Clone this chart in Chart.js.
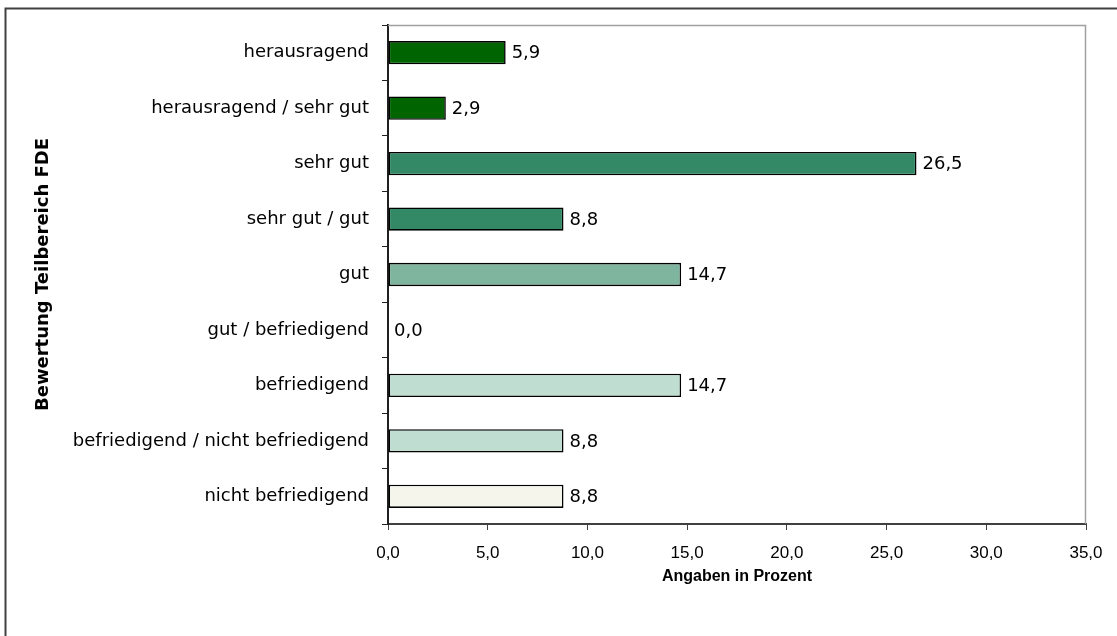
<!DOCTYPE html>
<html>
<head>
<meta charset="utf-8">
<script src="https://cdn.jsdelivr.net/npm/chart.js@4/dist/chart.umd.min.js"></script>
<style>
  html, body { margin: 0; padding: 0; background: #fff; }
  #wrap { width: 1117px; height: 636px; position: relative; }
</style>
</head>
<body>
<div id="wrap"><canvas id="bewertungChart" width="1117" height="636"></canvas></div>
<script>
// categories, top to bottom
const categories = [
  "herausragend",
  "herausragend / sehr gut",
  "sehr gut",
  "sehr gut / gut",
  "gut",
  "gut / befriedigend",
  "befriedigend",
  "befriedigend / nicht befriedigend",
  "nicht befriedigend",
];
const percentValues = [5.9, 2.9, 26.5, 8.8, 14.7, 0.0, 14.7, 8.8, 8.8];
const xTicks = [0, 5, 10, 15, 20, 25, 30, 35];

const barColors = [
  "#006400", "#006400",
  "#338866", "#338866",
  "#7fb59f", "#7fb59f",
  "#bfddd1", "#bfddd1",
  "#f5f5ec",
];

const fmt = (v) => v.toFixed(1).replace(".", ",");

// frame round the whole picture + gray top/right edge of the plot area
const framePlugin = {
  id: "frame",
  beforeDraw(chart) {
    const ctx = chart.ctx;
    ctx.save();
    ctx.fillStyle = "#fff";
    ctx.fillRect(0, 0, chart.width, chart.height);
    ctx.strokeStyle = "#404040";
    ctx.lineWidth = 2;
    ctx.strokeRect(5.5, 8.5, 1300, 800);
    ctx.restore();
  },
  afterDraw(chart) {
    const { left, top, right, bottom } = chart.chartArea;
    const ctx = chart.ctx;
    ctx.save();
    ctx.strokeStyle = "#a0a0a0";
    ctx.lineWidth = 1.5;
    ctx.beginPath();
    ctx.moveTo(left, top + 0.5);
    ctx.lineTo(right - 0.5, top + 0.5);
    ctx.lineTo(right - 0.5, bottom);
    ctx.stroke();
    ctx.restore();
  },
};

// value labels to the right of each bar
const valueLabels = {
  id: "valueLabels",
  afterDatasetsDraw(chart) {
    const ctx = chart.ctx;
    const meta = chart.getDatasetMeta(0);
    ctx.save();
    ctx.font = "18px 'DejaVu Sans'";
    ctx.fillStyle = "#000";
    ctx.textBaseline = "middle";
    ctx.textAlign = "left";
    meta.data.forEach((bar, i) => {
      ctx.fillText(fmt(percentValues[i]), bar.x + 6, bar.y + 1);
    });
    ctx.restore();
  },
};

const ctx = document.getElementById("bewertungChart").getContext("2d");
new Chart(ctx, {
  type: "bar",
  data: {
    labels: categories,
    datasets: [
      {
        data: percentValues,
        backgroundColor: barColors,
        borderColor: "#000",
        borderWidth: 1.6,
        borderSkipped: false,
        categoryPercentage: 1,
        barPercentage: 0.42,
      },
    ],
  },
  options: {
    indexAxis: "y",
    responsive: false,
    animation: false,
    layout: { padding: { left: 0, top: 25, right: 31, bottom: 0 } },
    plugins: {
      legend: { display: false },
      tooltip: { enabled: false },
    },
    scales: {
      x: {
        min: 0,
        max: 35,
        afterFit: (s) => { s.height = 112; },
        afterBuildTicks: (s) => { s.ticks = xTicks.map((v) => ({ value: v })); },
        grid: { drawOnChartArea: false, tickLength: 6, color: "#404040", lineWidth: 1 },
        border: { color: "#404040", width: 2 },
        ticks: {
          padding: 13,
          color: "#000",
          font: { family: "'Liberation Sans', Arial, sans-serif", size: 17 },
          callback: (v) => fmt(v),
        },
        title: {
          display: true,
          text: "Angaben in Prozent",
          color: "#000",
          font: { family: "'Liberation Sans', Arial, sans-serif", size: 16, weight: "bold" },
          padding: { top: 0, bottom: 50 },
        },
      },
      y: {
        afterFit: (s) => { s.width = 388; },
        grid: { drawOnChartArea: false, offset: true, tickLength: 6, color: "#202020", lineWidth: 1 },
        border: { color: "#202020", width: 2 },
        ticks: {
          padding: 13,
          color: "#000",
          font: { family: "'DejaVu Sans', sans-serif", size: 18 },
        },
        title: {
          display: true,
          text: "Bewertung Teilbereich FDE",
          color: "#000",
          font: { family: "'DejaVu Sans', sans-serif", size: 18, weight: "bold" },
          padding: { top: 33, bottom: 0 },
        },
      },
    },
  },
  plugins: [framePlugin, valueLabels],
});
</script>
</body>
</html>
